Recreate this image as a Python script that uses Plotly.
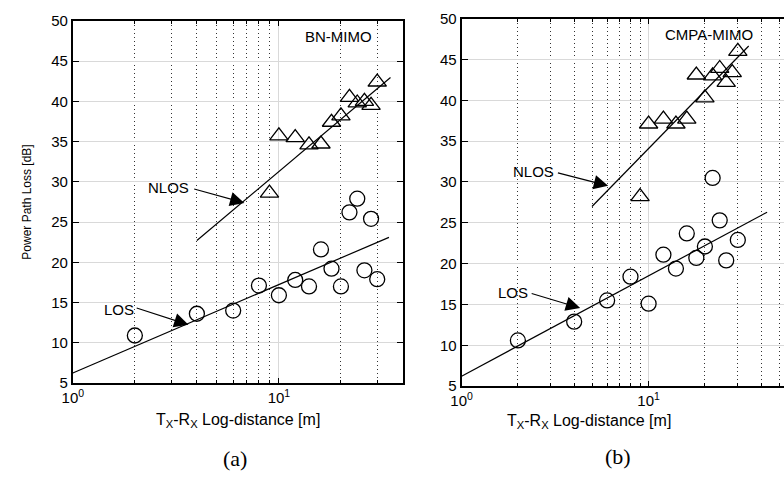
import numpy as np
import plotly.graph_objects as go

# ---------------- data ----------------
# (a) BN-MIMO
d_los_a = [2, 4, 6, 8, 10, 12, 14, 16, 18, 20, 22, 24, 26, 28, 30]
pl_los_a = [10.9, 13.6, 14.0, 17.1, 15.9, 17.8, 17.0, 21.6, 19.2, 17.0, 26.2, 27.9, 19.0, 25.4, 17.9]
d_nlos_a = [9, 10, 12, 14, 16, 18, 20, 22, 24, 26, 28, 30]
pl_nlos_a = [28.6, 35.7, 35.5, 34.6, 34.7, 37.4, 38.2, 40.5, 39.8, 40.0, 39.5, 42.4]
fit_los_a_d = [1, 34.2]
fit_los_a_pl = [6.24, 23.1]
fit_nlos_a_d = [4.0, 34.8]
fit_nlos_a_pl = [22.7, 42.96]

# (b) CMPA-MIMO
d_los_b = [2, 4, 6, 8, 10, 12, 14, 16, 18, 20, 22, 24, 26, 30]
pl_los_b = [10.6, 12.9, 15.5, 18.4, 15.1, 21.1, 19.4, 23.7, 20.7, 22.1, 30.5, 25.3, 20.4, 22.9]
d_nlos_b = [9, 10, 12, 14, 16, 18, 20, 22, 24, 26, 28, 30]
pl_nlos_b = [28.2, 37.1, 37.7, 37.1, 37.7, 43.1, 40.3, 43.0, 43.9, 42.2, 43.4, 46.0]
fit_los_b_d = [1, 43.0]
fit_los_b_pl = [6.22, 26.3]
fit_nlos_b_d = [4.98, 34.3]
fit_nlos_b_pl = [27.0, 46.65]

x_major = [1, 10]
x_major_text = ["10<sup>0</sup>", "10<sup>1</sup>"]
x_minor = [2, 3, 4, 5, 6, 7, 8, 9, 20, 30, 40, 50]
y_ticks = [5, 10, 15, 20, 25, 30, 35, 40, 45, 50]

FONT = "Liberation Sans, Arial, sans-serif"
W, H = 784, 480

fig = go.Figure()

def add_panel(xa, ya, dl, pl, dn, pn, fld, flp, fnd, fnp):
    fig.add_trace(go.Scatter(x=fld, y=flp, mode="lines", xaxis=xa, yaxis=ya,
                             line=dict(color="black", width=1.2), showlegend=False))
    fig.add_trace(go.Scatter(x=fnd, y=fnp, mode="lines", xaxis=xa, yaxis=ya,
                             line=dict(color="black", width=1.2), showlegend=False))
    fig.add_trace(go.Scatter(x=dl, y=pl, mode="markers", xaxis=xa, yaxis=ya,
                             marker=dict(symbol="circle-open", size=15, color="black",
                                         line=dict(width=1.3)), showlegend=False))
    fig.add_trace(go.Scatter(x=dn, y=pn, mode="markers", xaxis=xa, yaxis=ya,
                             marker=dict(symbol="triangle-up-open", size=16, color="black",
                                         line=dict(width=1.3)), showlegend=False))

add_panel("x", "y", d_los_a, pl_los_a, d_nlos_a, pl_nlos_a,
          fit_los_a_d, fit_los_a_pl, fit_nlos_a_d, fit_nlos_a_pl)
add_panel("x2", "y2", d_los_b, pl_los_b, d_nlos_b, pl_nlos_b,
          fit_los_b_d, fit_los_b_pl, fit_nlos_b_d, fit_nlos_b_pl)

def xaxis_cfg(domain, rng, mirror):
    return dict(
        type="log", domain=domain, range=rng,
        tickmode="array", tickvals=x_major, ticktext=x_major_text,
        ticks="inside", ticklen=5, tickcolor="black",
        showgrid=True, gridcolor="#d9d9d9", gridwidth=1,
        minor=dict(tickmode="array", tickvals=x_minor, ticks="inside", ticklen=3,
                   tickcolor="black", showgrid=True, gridcolor="#333333",
                   griddash="1px,3px", gridwidth=1),
        showline=True, linecolor="black", linewidth=2, mirror=mirror,
        zeroline=False, tickfont=dict(family=FONT, size=15, color="black"),
    )

def yaxis_cfg(domain, anchor, mirror):
    return dict(
        domain=domain, range=[5, 50], anchor=anchor,
        tickmode="array", tickvals=y_ticks,
        ticks="inside", ticklen=6, tickcolor="black",
        showgrid=True, gridcolor="#d9d9d9", gridwidth=1,
        showline=True, linecolor="black", linewidth=2, mirror=mirror,
        zeroline=False, tickfont=dict(family=FONT, size=15, color="black"),
    )

fig.update_layout(
    width=W, height=H,
    margin=dict(l=0, r=0, t=0, b=0),
    paper_bgcolor="white", plot_bgcolor="white",
    xaxis=dict(**xaxis_cfg([62.7 / W, 398 / W], [0, np.log10(40.2)], "ticks"), anchor="y"),
    yaxis=yaxis_cfg([1 - 387.7 / H, 1 - 12.3 / H], "x", "ticks"),
    xaxis2=dict(**xaxis_cfg([457 / W, 1.0], [0, 1.724], "ticks"), anchor="y2"),
    yaxis2=yaxis_cfg([1 - 391 / H, 1 - 10 / H], "x2", False),
)

ann = []

def arrow(xr, yr, x, y, ax, ay):
    ann.append(dict(xref=xr, yref=yr, x=x, y=y, ax=ax, ay=ay, text="",
                    showarrow=True, arrowhead=2, arrowsize=2.6, arrowwidth=1.1,
                    arrowcolor="black"))

def label(xr, yr, x, y, t, size=15, fam=FONT, angle=0):
    ann.append(dict(xref=xr, yref=yr, x=x, y=y, text=t, showarrow=False,
                    font=dict(family=fam, size=size, color="black"),
                    xanchor="center", yanchor="middle", textangle=angle))

# panel (a) annotations
label("x", "y", 0.4641, 29.29, "NLOS")
arrow("x", "y", 0.8325, 27.38, -51.7, -14.3)
label("x", "y", 0.2239, 14.19, "LOS")
arrow("x", "y", 0.5612, 12.23, -53.3, -17.3)
# panel (b) annotations
label("x2", "y2", 0.3819, 31.3, "NLOS")
arrow("x2", "y2", 0.7834, 29.53, -51.7, -13.3)
label("x2", "y2", 0.2726, 16.46, "LOS")
arrow("x2", "y2", 0.634, 14.57, -50, -15)

# panel titles inside plots
label("paper", "paper", 331.7 / W, 1 - 28.3 / H, "BN-MIMO")
label("paper", "paper", 708.3 / W, 1 - 26.7 / H, "CMPA-MIMO")

# axis titles
xt = "T<sub>X</sub>-R<sub>X</sub> Log-distance [m]"
label("paper", "paper", 230 / W, 1 - 427 / H, xt, size=16)
label("paper", "paper", 586 / W, 1 - 428 / H, xt, size=16)
label("paper", "paper", 16 / W, 1 - 200 / H, "Power Path Loss [dB]", size=12, angle=-90)

# sub-figure captions
label("paper", "paper", 227 / W, 1 - 466 / H, "(a)", size=22, fam="Liberation Serif, Times New Roman, serif")
label("paper", "paper", 616 / W, 1 - 464 / H, "(b)", size=22, fam="Liberation Serif, Times New Roman, serif")

fig.update_layout(annotations=ann)

fig.write_html("out.html")
